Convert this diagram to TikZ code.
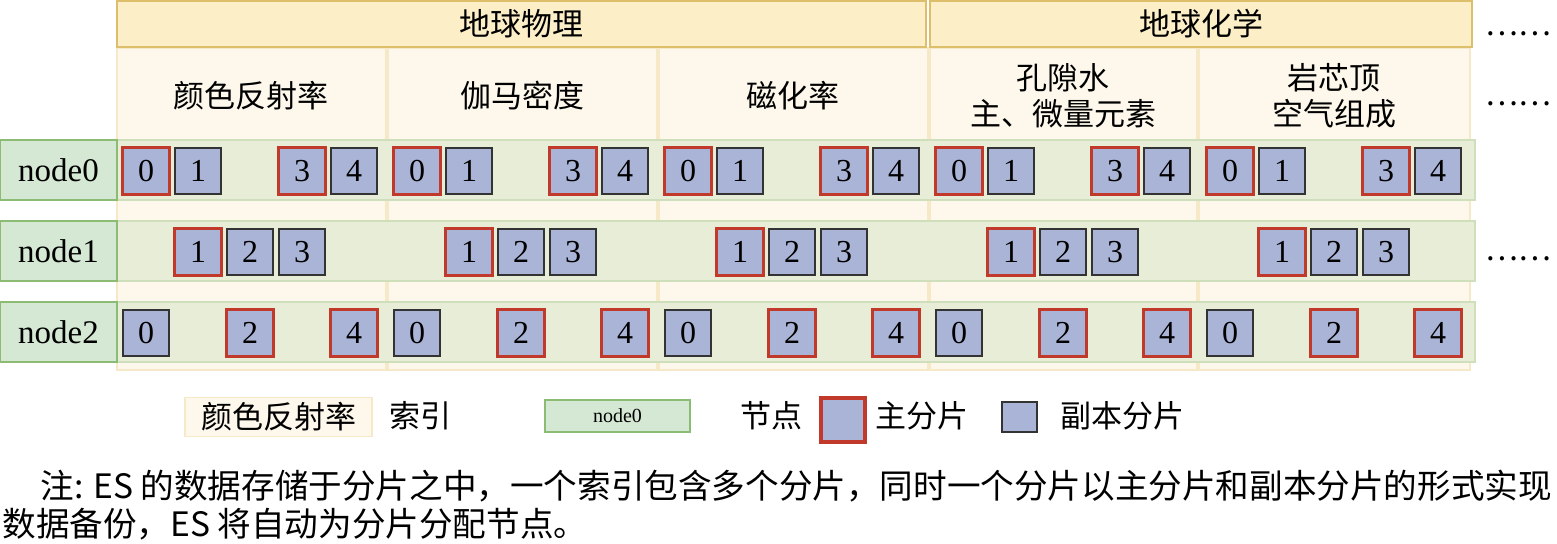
\documentclass[tikz,border=0pt]{standalone}
\usepackage{fontspec}
\setmainfont{Liberation Serif}
\newfontfamily\cjk{Noto Sans CJK SC}
\definecolor{hdrfill}{HTML}{FCEFC8}
\definecolor{hdrline}{HTML}{DDBE6A}
\definecolor{idxfill}{HTML}{FDF8EB}
\definecolor{idxline}{HTML}{F6E9C8}
\definecolor{rowfill}{HTML}{E8EDD8}
\definecolor{rowline}{HTML}{CFDFBC}
\definecolor{nodefill}{HTML}{D5E8D4}
\definecolor{nodeline}{HTML}{8CBB74}
\definecolor{shardfill}{HTML}{AAB4D6}
\definecolor{prim}{HTML}{C0392B}
\tikzset{
 hdr/.style={draw=hdrline,fill=hdrfill,line width=1.2pt},
 idx/.style={draw=idxline,fill=idxfill,line width=0.8pt},
 rowband/.style={draw=rowline,fill=rowfill,line width=0.8pt},
 nodelab/.style={draw=nodeline,fill=nodefill,line width=1.2pt,minimum width=58.5pt,minimum height=30pt,inner sep=0pt,font=\fontsize{16.5}{16.5}\selectfont},
 shard/.style={draw=black!80,fill=shardfill,line width=0.8pt,minimum width=23pt,minimum height=23pt,inner sep=0pt,font=\fontsize{16}{16}\selectfont},
 pshard/.style={shard,draw=prim,line width=1.8pt,minimum width=23.5pt,minimum height=23.5pt},
 cj/.style={font=\cjk\fontsize{15.5}{18}\selectfont,align=center},
}
\begin{document}
\begin{tikzpicture}[x=0.5pt,y=-0.5pt]
\useasboundingbox (0,0) rectangle (1557,543);
% index columns
\foreach \i/\a/\b in {1/117/386,2/388/657,3/659/928,4/930/1197,5/1199/1470}{
  \path[idx] (\a,48) rectangle (\b,370);
}
% headers
\node[hdr,minimum width=404.5pt,minimum height=23pt,cj] (h1) at (521.5,24) {地球物理};
\node[hdr,minimum width=271pt,minimum height=23pt,cj] (h2) at (1201,24) {地球化学};
\node[cj] (e0) at (1518,34) {……};
\node[cj] (c1) at (251,96) {颜色反射率};
\node[cj] (c2) at (522,96) {伽马密度};
\node[cj] (c3) at (793,96) {磁化率};
\node[cj] (c4) at (1063,96) {孔隙水\\主、微量元素};
\node[cj] (c5) at (1334,96) {岩芯顶\\空气组成};
\node[cj] (e1) at (1518,104) {……};
\node[cj] (e2) at (1518,259) {……};
% rows
\foreach \r/\y in {0/170,1/251,2/332}{
  \path[rowband] (117,\y-30) rectangle (1475,\y+30);
  \node[nodelab] (n\r) at (58.5,\y) {node\r};
}
% shards
\foreach \c in {0,...,4}{
  \pgfmathsetmacro{\x}{146+271*\c}
  \node[pshard] (s0a\c) at (\x,171) {0};
  \node[shard]  (s0b\c) at (\x+52,171) {1};
  \node[pshard] (s0c\c) at (\x+156,171) {3};
  \node[shard]  (s0d\c) at (\x+208,171) {4};
  \node[pshard] (s1a\c) at (\x+52,252) {1};
  \node[shard]  (s1b\c) at (\x+104,252) {2};
  \node[shard]  (s1c\c) at (\x+156,252) {3};
  \node[shard]  (s2a\c) at (\x,333) {0};
  \node[pshard] (s2b\c) at (\x+104,333) {2};
  \node[pshard] (s2c\c) at (\x+208,333) {4};
}
% legend
\node[idx,cj,minimum width=93.5pt,minimum height=19.5pt,inner sep=0pt] (L1) at (278.5,417) {颜色反射率};
\node[cj] (L1t) at (420,416) {索引};
\node[nodelab,minimum width=72.5pt,minimum height=16pt,font=\fontsize{10}{10}\selectfont] (L2) at (617.5,416) {node0};
\node[cj] (L2t) at (771,416) {节点};
\node[pshard,minimum width=22pt,minimum height=22pt] (L3) at (843,420) {};
\node[cj] (L3t) at (922,416) {主分片};
\node[shard,minimum width=17.5pt,minimum height=15pt] (L4) at (1019.5,417) {};
\node[cj] (L4t) at (1122,416) {副本分片};
% note
\node[anchor=west,font=\cjk\fontsize{16.8}{18}\selectfont,inner sep=0pt] (note1) at (40,486) {注: ES 的数据存储于分片之中，一个索引包含多个分片，同时一个分片以主分片和副本分片的形式实现};
\node[anchor=west,font=\cjk\fontsize{16.8}{18}\selectfont,inner sep=0pt] (note2) at (2,524) {数据备份，ES 将自动为分片分配节点。};
\end{tikzpicture}
\end{document}
